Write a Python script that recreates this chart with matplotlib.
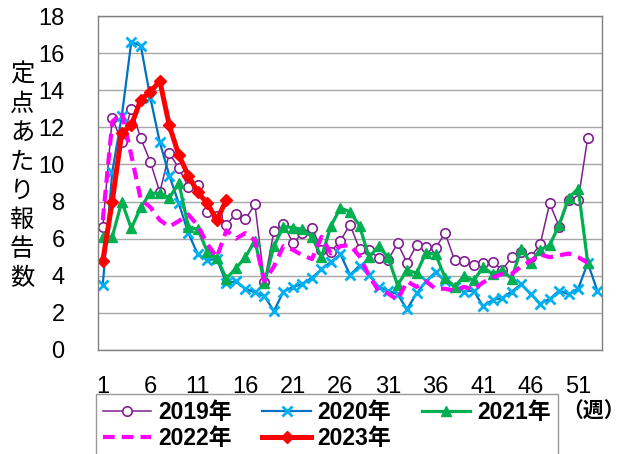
"""
    定点あたり報告数 (週別, 2019-2023年) の折れ線グラフ。
"""

# 3rd party modules
import numpy as np
from matplotlib import pyplot as plt

# data
y2019 = [6.65, 12.5, 11.2, 13.0, 11.4, 10.15, 8.5, 10.6, 9.8, 8.8,
         8.9, 7.45, 7.2, 6.75, 7.35, 7.05, 7.85, 3.65, 6.4, 6.8,
         5.75, 6.3, 6.6, 5.4, 5.3, 5.9, 6.75, 5.45, 5.4, 4.95,
         4.85, 5.75, 4.7, 5.65, 5.55, 5.5, 6.3, 4.85, 4.8, 4.6,
         4.7, 4.75, 4.3, 5.0, 5.3, 5.0, 5.7, 7.9, 6.65, 8.1,
         8.1, 11.45]
y2020 = [3.5, 9.6, 12.6, 16.6, 16.4, 13.6, 11.2, 9.4, 7.9, 6.3,
         5.15, 4.85, 4.9, 3.6, 3.7, 3.3, 3.1, 2.9, 2.1, 3.15,
         3.4, 3.55, 3.9, 4.35, 4.75, 5.15, 4.05, 4.55, 4.05, 3.4,
         3.2, 3.0, 2.2, 3.05, 3.7, 4.2, 3.7, 3.4, 3.15, 3.2,
         2.35, 2.7, 2.8, 3.15, 3.55, 3.0, 2.5, 2.75, 3.2, 3.0,
         3.3, 4.7, 3.2]
y2021 = [6.1, 6.1, 8.0, 6.55, 7.7, 8.45, 8.45, 8.2, 9.0, 6.65,
         6.5, 5.3, 4.95, 3.85, 4.4, 5.0, 5.9, 3.6, 5.6, 6.65,
         6.6, 6.5, 6.1, 5.0, 6.7, 7.65, 7.45, 6.7, 5.0, 5.6,
         5.0, 3.5, 4.3, 4.15, 5.25, 5.15, 3.9, 3.4, 4.0, 3.75,
         4.45, 4.1, 4.3, 3.85, 5.45, 4.7, 5.4, 5.65, 6.75, 8.2,
         8.7, 4.7]
y2022 = [7.0, 12.3, 12.8, 10.5, 8.1, 7.7, 7.0, 6.65, 6.95, 7.3,
         6.7, 5.7, 5.0, 6.45, 6.0, 6.3, 5.9, 3.7, 4.5, 5.6,
         5.4, 5.1, 4.9, 6.1, 5.2, 5.6, 5.65, 5.05, 4.0, 3.2,
         3.05, 2.7, 3.7, 3.4, 3.7, 3.3, 3.3, 3.2, 3.4, 3.25,
         3.65, 3.9, 4.1, 4.1, 4.5, 4.8, 5.15, 5.0, 5.1, 5.2,
         5.0, 4.7]
y2023 = [4.8, 8.0, 11.7, 12.1, 13.5, 13.9, 14.5, 12.1, 10.5, 9.4,
         8.5, 7.9, 7.0, 8.1]

x_ticks = [1, 6, 11, 16, 21, 26, 31, 36, 41, 46, 51]
y_ticks = [0, 2, 4, 6, 8, 10, 12, 14, 16, 18]
y_label = '定点あたり報告数'

NUM_FONT = ['Liberation Sans', 'Noto Sans CJK JP']
CJK_FONT = ['Noto Sans CJK JP', 'DejaVu Sans']


def weeks(values):
    return np.arange(1, len(values) + 1)


def main():
    fig = plt.figure(figsize=(6.26, 4.54), dpi=100)
    ax = fig.add_axes([98 / 626, 1 - 350 / 454, 504 / 626, 334 / 454])

    h19, = ax.plot(weeks(y2019), y2019, color='#80208F', lw=1.1,
                   marker='o', ms=6.8, mfc='white', mec='#80208F', mew=1.2,
                   label='2019年')
    h20, = ax.plot(weeks(y2020), y2020, color='#0070C0', lw=1.6,
                   marker='x', ms=6.5, mec='#00B0F0', mew=2.0,
                   label='2020年')
    h21, = ax.plot(weeks(y2021), y2021, color='#00B050', lw=2.3,
                   marker='^', ms=7.5, mfc='#00B050', mec='#00B050',
                   label='2021年')
    h22, = ax.plot(weeks(y2022), y2022, color='#FF00FF', lw=3.0,
                   dashes=(2.8, 1.7), label='2022年')
    h23, = ax.plot(weeks(y2023), y2023, color='#FF0000', lw=3.6,
                   marker='D', ms=6.5, mfc='#FF0000', mec='#FF0000',
                   label='2023年')

    ax.set_xlim(0.5, 53.5)
    ax.set_ylim(0, 18)
    ax.set_xticks(x_ticks)
    ax.set_yticks(y_ticks)
    ax.tick_params(axis='both', length=0, labelsize=17)
    ax.tick_params(axis='x', pad=19)
    ax.tick_params(axis='y', pad=24)
    for lab in ax.get_xticklabels() + ax.get_yticklabels():
        lab.set_family(NUM_FONT)

    ax.grid(axis='y', color='#A6A6A6', lw=1.0)
    ax.set_axisbelow(True)
    for side in ax.spines.values():
        side.set_color('#808080')
        side.set_linewidth(1.0)

    # 縦書きの軸ラベル (1文字ずつ配置)
    for i, ch in enumerate(y_label):
        fig.text(22 / 626, 1 - (75 + 29 * i) / 454, ch, family=CJK_FONT,
                 fontsize=17.5, ha='center', va='center')

    # 凡例 (行方向に並ぶように順番を入れ替え)
    handles = [h19, h22, h20, h23, h21]
    leg = fig.legend(handles=handles, labels=[h.get_label() for h in handles],
                     loc='upper left', bbox_to_anchor=(96 / 626, 1 - 394 / 454),
                     ncol=3, frameon=True, fancybox=False, borderaxespad=0,
                     handlelength=2.1, handletextpad=0.3, columnspacing=1.35,
                     labelspacing=0.15, borderpad=0.3,
                     prop={'family': NUM_FONT, 'size': 16.5, 'weight': 'bold'})
    leg.get_frame().set_edgecolor('#808080')
    leg.get_frame().set_linewidth(1.0)

    fig.text(562 / 626, 1 - 411 / 454, '（週）', family=CJK_FONT,
             fontsize=15, fontweight='bold', ha='left', va='center')

    fig.savefig('out.png', dpi=100)


if __name__ == '__main__':
    main()
